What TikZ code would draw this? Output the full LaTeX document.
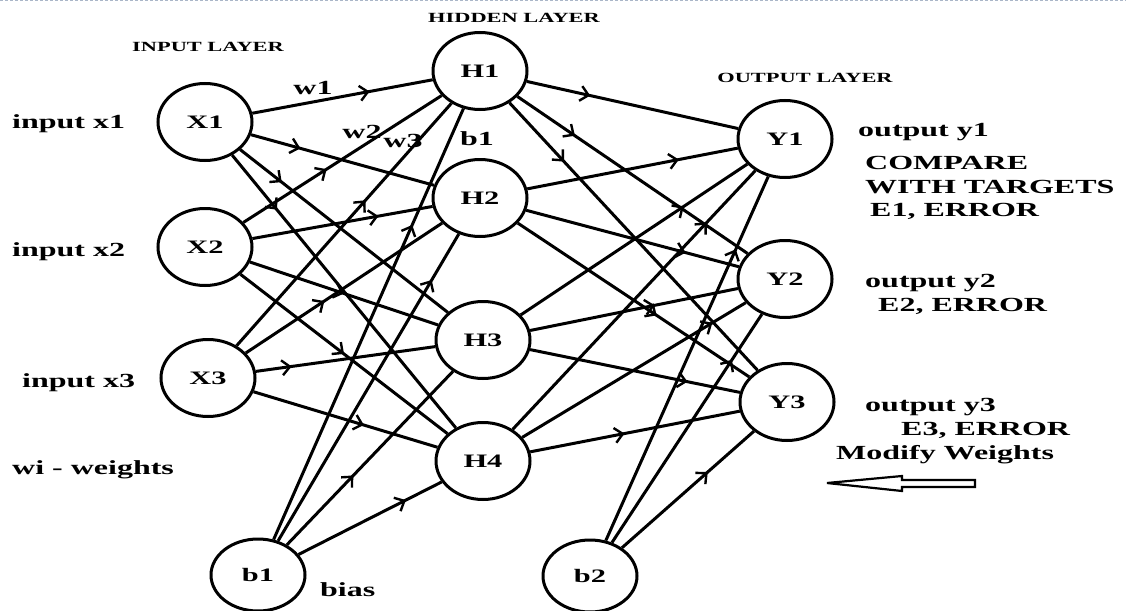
\documentclass[tikz,border=0pt]{standalone}
\usepackage{fontspec}
\setmainfont{Liberation Serif}[FakeStretch=1.6]
\usetikzlibrary{arrows.meta,decorations.markings,shapes.geometric}
\definecolor{rule}{RGB}{170,182,200}
\begin{document}
\begin{tikzpicture}[x=1pt,y=-1pt,
  neuron/.style={draw, ellipse, line width=3pt, minimum width=94pt,
    minimum height=77pt, inner sep=0pt,
    font=\fontsize{19}{22}\selectfont\bfseries},
  biasnode/.style={neuron, minimum height=72pt},
  lbl/.style={inner sep=0pt, font=\fontsize{20}{23}\selectfont\bfseries},
  ttl/.style={inner sep=0pt, font=\fontsize{14}{16}\selectfont\bfseries},
  wire/.style={line width=3pt, postaction={decorate},
    decoration={markings, mark=at position #1 with
      {\arrow[line width=2.4pt]{Straight Barb[length=8pt,width=15pt]}}}}]
\useasboundingbox (0,0) rectangle (1126,610);
\draw[rule, line width=1pt, dash pattern=on 3pt off 2pt] (0,1) -- (1126,1);

% neurons
\node[neuron] (X1) at (205,122) {X1};
\node[neuron] (X2) at (205,247) {X2};
\node[neuron] (X3) at (208,378) {X3};
\node[neuron] (H1) at (480,71) {H1};
\node[neuron] (H2) at (480,198) {H2};
\node[neuron] (H3) at (483,340) {H3};
\node[neuron] (H4) at (483,461) {H4};
\node[neuron] (Y1) at (785,139) {Y1};
\node[neuron] (Y2) at (785,279) {Y2};
\node[neuron] (Y3) at (787,402) {Y3};
\node[biasnode] (B1) at (258,575) {b1};
\node[biasnode] (B2) at (590,576) {b2};

% input -> hidden
\draw[wire=0.65] (X1) -- (H1);
\draw[wire=0.27] (X1) -- (H2);
\draw[wire=0.2]  (X1) -- (H3);
\draw[wire=0.2]  (X1) -- (H4);
\draw[wire=0.42] (X2) -- (H1);
\draw[wire=0.7]  (X2) -- (H2);
\draw[wire=0.5]  (X2) -- (H3);
\draw[wire=0.5]  (X2) -- (H4);
\draw[wire=0.6]  (X3) -- (H1);
\draw[wire=0.4]  (X3) -- (H2);
\draw[wire=0.2]  (X3) -- (H3);
\draw[wire=0.6]  (X3) -- (H4);
\draw[wire=0.73] (B1) -- (H1);
\draw[wire=0.85] (B1) -- (H2);
\draw[wire=0.4]  (B1) -- (H3);
\draw[wire=0.75] (B1) -- (H4);

% hidden -> output
\draw[wire=0.3]  (H1) -- (Y1);
\draw[wire=0.25] (H1) -- (Y2);
\draw[wire=0.22] (H1) -- (Y3);
\draw[wire=0.72] (H2) -- (Y1);
\draw[wire=0.75] (H2) -- (Y2);
\draw[wire=0.6]  (H2) -- (Y3);
\draw[wire=0.72] (H3) -- (Y1);
\draw[wire=0.6]  (H3) -- (Y2);
\draw[wire=0.75] (H3) -- (Y3);
\draw[wire=0.8]  (H4) -- (Y1);
\draw[wire=0.85] (H4) -- (Y2);
\draw[wire=0.45] (H4) -- (Y3);
\draw[wire=0.8]  (B2) -- (Y1);
\draw[wire=0.8]  (B2) -- (Y2);
\draw[wire=0.65] (B2) -- (Y3);

% layer titles
\node[ttl] (tin)  at (208,47) {INPUT LAYER};
\node[ttl] (thid) at (514,18) {HIDDEN LAYER};
\node[ttl] (tout) at (805,78) {OUTPUT LAYER};

% weight labels
\node[lbl] (w1) at (313,88)  {w1};
\node[lbl] (w2) at (362,132) {w2};
\node[lbl] (w3) at (403,141) {w3};
\node[lbl] (b1l) at (477,139) {b1};

% side labels
\node[lbl, anchor=west] (ix1) at (12,124) {input x1};
\node[lbl, anchor=west] (ix2) at (12,252) {input x2};
\node[lbl, anchor=west] (ix3) at (22,383) {input x3};
\node[lbl, anchor=west] (wts) at (12,470) {wi - weights};
\node[lbl, anchor=west] (bias) at (320,590) {bias};

\node[lbl, anchor=west] (oy1) at (858,132) {output y1};
\node[lbl, anchor=west] (cmp) at (865,163) {COMPARE};
\node[lbl, anchor=west] (tgt) at (865,187) {WITH TARGETS};
\node[lbl, anchor=west] (e1)  at (870,211) {E1, ERROR};
\node[lbl, anchor=west] (oy2) at (865,283) {output y2};
\node[lbl, anchor=west] (e2)  at (878,306) {E2, ERROR};
\node[lbl, anchor=west] (oy3) at (865,407) {output y3};
\node[lbl, anchor=west] (e3)  at (901,430) {E3, ERROR};
\node[lbl, anchor=west] (mod) at (836,455) {Modify Weights};

% hollow arrow pointing back
\draw[line width=2.2pt, fill=white, line join=miter]
  (827,483) -- (902,476) -- (902,480) -- (975,480) -- (975,487)
  -- (902,487) -- (902,491) -- cycle;
\end{tikzpicture}
\end{document}
